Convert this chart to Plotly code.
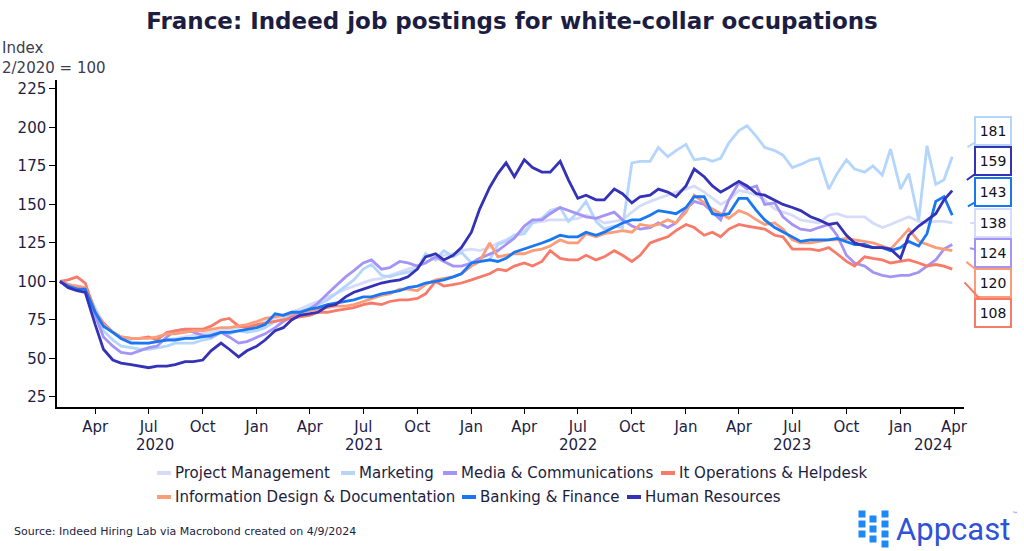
import pandas as pd
import plotly.graph_objects as go

# ---------------- data (semi-monthly readings, index 2/2020 = 100) ----------------
DATES = list(pd.date_range("2020-02-01", "2024-03-15", freq="SMS").strftime("%Y-%m-%d")) + ["2024-03-29"]

PROJECT_MANAGEMENT = [
    100, 98, 97, 96, 83, 73, 67, 63, 61, 60, 60, 61, 62, 63, 64, 65, 66, 67, 68, 69, 70, 71,
    72, 74, 76, 78, 80, 82, 85, 87, 90, 92, 95, 97, 99, 101, 102, 104, 106, 108, 110, 113, 115, 117, 118, 120,
    121, 120, 122, 125, 127, 130, 133, 138, 139, 140, 140, 140, 141, 143, 141, 138, 139, 140, 145, 149, 152, 154, 156, 158,
    160, 162, 158, 154, 150, 153, 159, 158, 156, 153, 147, 145, 143, 140, 139, 138, 143, 144, 142, 142, 142, 138, 135, 137,
    140, 142, 139, 138, 139, 139, 138,
]
MARKETING = [
    100, 98, 97, 96, 82, 68, 62, 58, 57, 56, 56, 57, 58, 60, 60, 60, 62, 63, 67, 66, 68, 67,
    68, 70, 74, 76, 78, 80, 83, 85, 88, 92, 97, 101, 108, 111, 104, 103, 105, 106, 108, 118, 114, 120, 116, 119,
    112, 113, 114, 124, 126, 130, 131, 138, 141, 146, 148, 139, 145, 152, 139, 134, 136, 135, 177, 178, 178, 187, 181, 185,
    189, 179, 180, 178, 180, 190, 198, 201, 194, 187, 185, 182, 174, 176, 179, 180, 160, 170, 179, 173, 171, 175, 169, 186,
    160, 170, 140, 188, 163, 166, 181,
]
MEDIA_COMMUNICATIONS = [
    100, 98, 96, 95, 78, 64, 58, 54, 53, 55, 57, 58, 64, 68, 69, 67, 65, 64, 67, 64, 60, 61,
    64, 66, 70, 74, 77, 79, 82, 86, 92, 97, 103, 107, 112, 114, 108, 109, 113, 112, 110, 112, 116, 113, 110, 110,
    112, 115, 118, 120, 124, 128, 136, 140, 140, 144, 148, 146, 144, 142, 141, 143, 145, 140, 136, 134, 135, 138, 135, 138,
    147, 152, 150, 145, 140, 153, 164, 160, 162, 150, 151, 142, 137, 134, 133, 135, 137, 130, 117, 112, 110, 106, 104, 103,
    104, 104, 106, 110, 114, 121, 124,
]
IT_OPERATIONS = [
    100, 101, 103, 99, 80, 73, 67, 64, 63, 63, 64, 62, 67, 68, 69, 69, 69, 71, 75, 76, 71, 70,
    72, 73, 74, 75, 76, 77, 78, 80, 80, 81, 82, 83, 85, 86, 85, 87, 88, 88, 89, 92, 100, 97, 98, 99,
    101, 103, 105, 108, 107, 110, 112, 110, 113, 120, 115, 114, 114, 117, 114, 116, 120, 117, 113, 117, 125, 127, 129, 133,
    137, 135, 130, 132, 129, 134, 137, 136, 135, 134, 130, 129, 121, 121, 121, 120, 122, 118, 113, 110, 116, 115, 114, 112,
    113, 114, 112, 110, 111, 110, 108,
]
INFORMATION_DESIGN = [
    100, 98, 97, 96, 80, 72, 67, 64, 63, 63, 63, 64, 66, 66, 67, 68, 68, 69, 70, 70, 71, 72,
    74, 76, 77, 78, 79, 80, 81, 82, 83, 84, 84, 85, 87, 89, 91, 92, 95, 95, 94, 98, 101, 102, 103, 105,
    110, 113, 125, 116, 117, 118, 118, 120, 121, 123, 127, 125, 125, 131, 129, 131, 132, 133, 132, 137, 136, 137, 140, 138,
    145, 156, 151, 147, 144, 141, 146, 144, 140, 137, 138, 134, 127, 125, 125, 126, 127, 127, 128, 127, 126, 125, 123, 121,
    128, 134, 126, 124, 122, 121, 120,
]
BANKING_FINANCE = [
    100, 97, 95, 95, 80, 71, 67, 63, 60, 60, 60, 61, 62, 62, 63, 63, 64, 65, 67, 67, 68, 69,
    70, 72, 79, 78, 80, 80, 82, 83, 85, 86, 87, 88, 90, 90, 92, 93, 94, 96, 97, 99, 100, 101, 103, 105,
    112, 113, 114, 113, 115, 119, 121, 123, 125, 127, 130, 129, 129, 132, 130, 132, 135, 138, 140, 140, 143, 146, 145, 144,
    148, 155, 155, 144, 143, 144, 154, 154, 146, 140, 135, 132, 129, 126, 127, 127, 127, 128, 126, 124, 124, 122, 122, 120,
    122, 126, 123, 131, 152, 155, 143,
]
HUMAN_RESOURCES = [
    100, 96, 94, 93, 72, 56, 49, 47, 46, 45, 44, 45, 45, 46, 48, 48, 49, 55, 60, 56, 51, 55,
    58, 62, 68, 70, 75, 78, 79, 80, 84, 85, 90, 93, 95, 97, 99, 100, 101, 103, 108, 116, 118, 114, 117, 122,
    132, 147, 161, 170, 177, 168, 179, 174, 171, 171, 178, 166, 154, 156, 153, 153, 160, 157, 151, 155, 156, 160, 158, 155,
    162, 173, 168, 162, 158, 161, 165, 162, 157, 156, 153, 150, 148, 146, 142, 140, 137, 138, 130, 125, 123, 122, 122, 121,
    115, 130, 136, 140, 144, 153, 159,
]

SERIES_NAMES = [
    "Project Management", "Marketing", "Media & Communications", "It Operations & Helpdesk",
    "Information Design & Documentation", "Banking & Finance", "Human Resources",
]
SERIES_VALUES = [
    PROJECT_MANAGEMENT, MARKETING, MEDIA_COMMUNICATIONS, IT_OPERATIONS,
    INFORMATION_DESIGN, BANKING_FINANCE, HUMAN_RESOURCES,
]
SERIES_COLORS = ["#d5dcfa", "#b4d5fc", "#a593f6", "#f87a69", "#fc9c78", "#1877f2", "#3432b6"]

Y_TICKS = [25, 50, 75, 100, 125, 150, 175, 200, 225]
X_TICKS = list(pd.date_range("2020-04-01", "2024-04-01", freq="QS").strftime("%Y-%m-%d"))
X_TICK_TEXT = [pd.Timestamp(d).strftime("%b") for d in X_TICKS]
YEAR_LABELS = ["2020", "2021", "2022", "2023", "2024"]
YEAR_POS = ["2020-07-12", "2021-07-02", "2022-07-02", "2023-07-01", "2024-02-25"]

# ---------------- layout constants ----------------
W, H = 1024, 551
L, R, T, B = 57, 60, 80, 144
PW, PH = W - L - R, H - T - B
X_RANGE = ["2020-01-27", "2024-04-18"]
Y_RANGE = [18.5, 230.8]
NAVY = "#1d1d42"
FONT = "DejaVu Sans"


def px_x(p):
    return (p - L) / PW


def px_y(p):
    return (H - B - p) / PH


def data_px_x(d):
    t0, t1 = pd.Timestamp(X_RANGE[0]), pd.Timestamp(X_RANGE[1])
    return L + (pd.Timestamp(d) - t0) / (t1 - t0) * PW


def data_px_y(v):
    return T + (Y_RANGE[1] - v) / (Y_RANGE[1] - Y_RANGE[0]) * PH


fig = go.Figure()
for name, vals, col in zip(SERIES_NAMES, SERIES_VALUES, SERIES_COLORS):
    fig.add_trace(go.Scatter(x=DATES, y=vals, mode="lines", name=name,
                             line=dict(color=col, width=2.8), showlegend=False,
                             hovertemplate="%{x|%b %Y}: %{y}<extra>" + name + "</extra>"))

annotations = []
shapes = []

# year labels under the month ticks
for lab, pos in zip(YEAR_LABELS, YEAR_POS):
    annotations.append(dict(x=pos, xref="x", y=px_y(445), yref="paper", text=lab,
                            showarrow=False, font=dict(family=FONT, size=15, color=NAVY),
                            xanchor="center", yanchor="middle"))

# y-axis caption
annotations.append(dict(x=px_x(0), xref="paper", y=px_y(58), yref="paper",
                        text="Index<br>2/2020 = 100", align="left", showarrow=False,
                        xanchor="left", yanchor="middle",
                        font=dict(family=FONT, size=15, color="#3c3c4c")))

# manual legend (two rows)
LEG_X = [157, 341, 443, 661, 157, 462, 627]
LEG_Y = [473, 473, 473, 473, 497, 497, 497]
for name, col, lx, ly in zip(SERIES_NAMES, SERIES_COLORS, LEG_X, LEG_Y):
    shapes.append(dict(type="line", xref="paper", yref="paper", x0=px_x(lx), x1=px_x(lx + 14),
                       y0=px_y(ly), y1=px_y(ly), line=dict(color=col, width=4)))
    annotations.append(dict(x=px_x(lx + 16), xref="paper", y=px_y(ly), yref="paper", text=name,
                            showarrow=False, xanchor="left", yanchor="middle",
                            font=dict(family=FONT, size=15, color=NAVY)))

# end-value callouts
CALLOUT_ORDER = [1, 6, 5, 0, 2, 4, 3]
CALLOUT_Y = [131, 161, 192, 223, 253, 283, 313]
CALLOUT_X = 993
for idx, cy in zip(CALLOUT_ORDER, CALLOUT_Y):
    vals = SERIES_VALUES[idx]
    last_d, last_v = DATES[-1], vals[-1]
    ptx, pty = data_px_x(last_d), data_px_y(last_v)
    annotations.append(dict(x=last_d, y=last_v, xref="x", yref="y",
                            ax=CALLOUT_X - ptx, ay=cy - pty, axref="pixel", ayref="pixel",
                            text=f"{last_v:.0f}", showarrow=True, arrowhead=0,
                            arrowwidth=2, arrowcolor=SERIES_COLORS[idx], standoff=18,
                            bgcolor="white", bordercolor=SERIES_COLORS[idx], borderwidth=2,
                            borderpad=3, width=28, height=20,
                            font=dict(family=FONT, size=14, color="#111122")))

# source
annotations.append(dict(x=px_x(12), xref="paper", y=px_y(531), yref="paper",
                        text="Source: Indeed Hiring Lab via Macrobond created on 4/9/2024",
                        showarrow=False, xanchor="left", yanchor="middle",
                        font=dict(family=FONT, size=11, color=NAVY)))

# Appcast logo
SQ = [(862, 514), (862, 524), (862, 534), (873, 519), (873, 529), (873, 539),
      (885, 514), (885, 524), (885, 534), (885, 544)]
for sx, sy in SQ:
    shapes.append(dict(type="rect", xref="paper", yref="paper",
                       x0=px_x(sx - 3.5), x1=px_x(sx + 3.5), y0=px_y(sy + 3.5), y1=px_y(sy - 3.5),
                       fillcolor="#1e88f5", line=dict(width=0)))
annotations.append(dict(x=px_x(894), xref="paper", y=px_y(529), yref="paper", text="Appcast",
                        showarrow=False, xanchor="left", yanchor="middle",
                        font=dict(family="Roboto", size=31, color="#2f52d6")))
annotations.append(dict(x=px_x(1010), xref="paper", y=px_y(513), yref="paper", text="™",
                        showarrow=False, xanchor="left", yanchor="middle",
                        font=dict(family=FONT, size=6, color="#2f52d6")))

fig.update_layout(
    width=W, height=H, margin=dict(l=L, r=R, t=T, b=B),
    paper_bgcolor="white", plot_bgcolor="white",
    title=dict(text="France: Indeed job postings for white-collar occupations",
               x=0.5, xref="container", xanchor="center",
               y=1 - 21 / H, yref="container", yanchor="middle",
               font=dict(family=FONT, size=23, color=NAVY, weight="bold")),
    font=dict(family=FONT, color=NAVY),
    annotations=annotations, shapes=shapes,
    xaxis=dict(type="date", range=X_RANGE, tickvals=X_TICKS, ticktext=X_TICK_TEXT,
               showgrid=False, zeroline=False, showline=True, linecolor="black", linewidth=1.5,
               ticks="outside", ticklen=5, tickcolor="black", tickwidth=1,
               tickfont=dict(family=FONT, size=15, color=NAVY)),
    yaxis=dict(range=Y_RANGE, tickvals=Y_TICKS, showgrid=False, zeroline=False,
               showline=True, linecolor="black", linewidth=1.5,
               ticks="outside", ticklen=6, tickcolor="black", tickwidth=1,
               tickfont=dict(family=FONT, size=15, color=NAVY)),
)

# page body has a default 8px margin; remove it so the 1024x551 figure fills the window
fig.write_html("out.html", config={"displayModeBar": False},
               post_script="document.body.style.margin='0';")
